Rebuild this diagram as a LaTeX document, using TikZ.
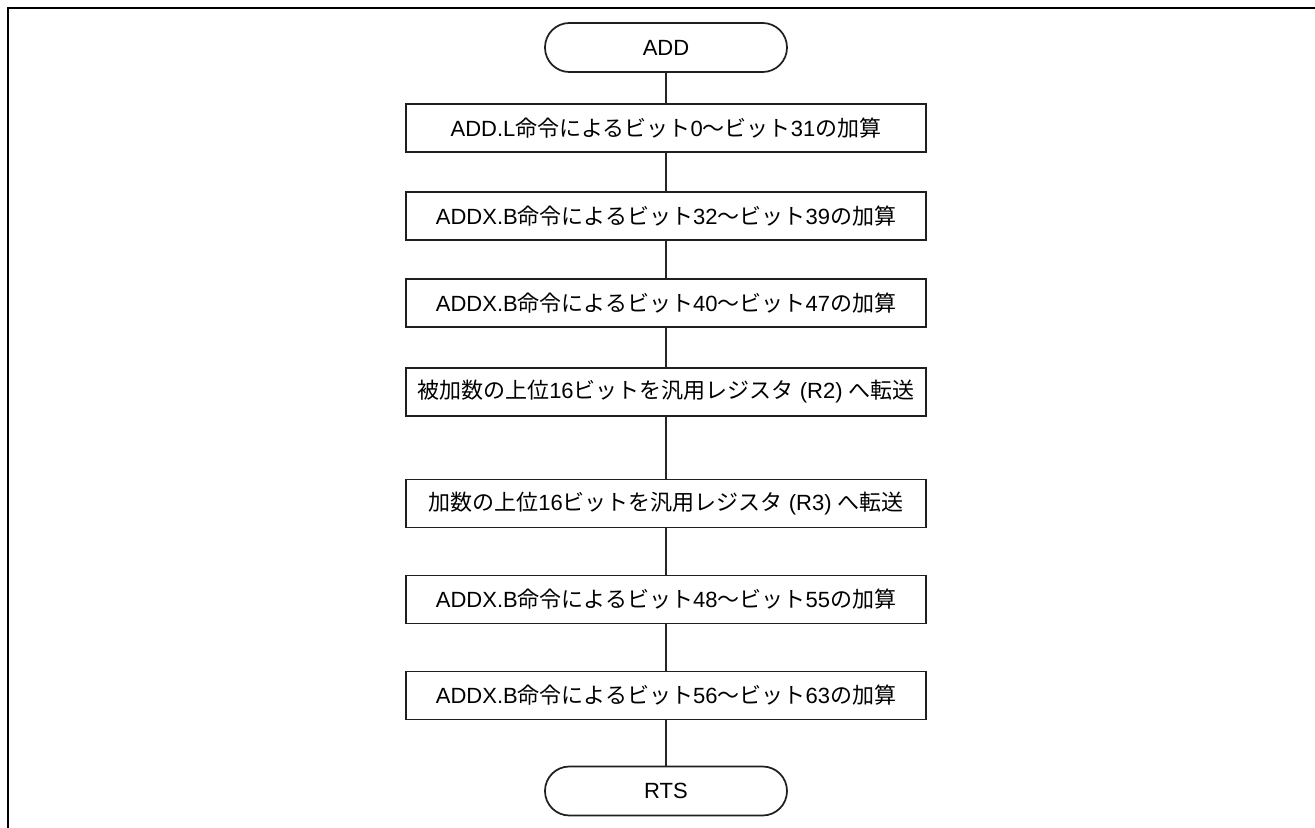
\documentclass[tikz,border=0pt]{standalone}
\usepackage{fontspec}
\setmainfont{Liberation Sans}
\newfontfamily\jp{Noto Sans CJK JP}
\newcommand\J[1]{{\jp #1}}
\begin{document}
\begin{tikzpicture}[x=0.75pt,y=-0.75pt,
  txt/.style={font=\fontsize{16.5}{19}\selectfont},
  proc/.style={txt, draw=black!88, line width=1.3pt, minimum width=390pt, minimum height=36pt, inner sep=0pt},
  term/.style={txt, draw=black!88, line width=1.3pt, rounded corners=18.3pt, minimum width=181.5pt, minimum height=36.75pt, inner sep=0pt},
  link/.style={draw=black!85, line width=0.8pt},
  frame/.style={line width=1.8pt}]
\useasboundingbox (0,0) rectangle (1315,828);
\coordinate (f1) at (8,828);
\coordinate (f2) at (8,8);
\coordinate (f3) at (1316,8);
\draw[frame] (f1) -- (f2) -- (f3);
\node[term] (add) at (666,47.5) {ADD};
\node[proc] (b1) at (666,128) {ADD.L\J{命令によるビット}0\J{〜ビット}31\J{の加算}};
\node[proc] (b2) at (666,216) {ADDX.B\J{命令によるビット}32\J{〜ビット}39\J{の加算}};
\node[proc] (b3) at (666,303) {ADDX.B\J{命令によるビット}40\J{〜ビット}47\J{の加算}};
\node[proc] (b4) at (666,392) {\J{被加数の上位}16\J{ビットを汎用レジスタ} (R2) \J{へ転送}};
\node[proc] (b5) at (666,503.5) {\J{加数の上位}16\J{ビットを汎用レジスタ} (R3) \J{へ転送}};
\node[proc] (b6) at (666,599.5) {ADDX.B\J{命令によるビット}48\J{〜ビット}55\J{の加算}};
\node[proc] (b7) at (666,695.5) {ADDX.B\J{命令によるビット}56\J{〜ビット}63\J{の加算}};
\node[term] (rts) at (666,791) {RTS};
\draw[link] (add) -- (b1);
\draw[link] (b1) -- (b2);
\draw[link] (b2) -- (b3);
\draw[link] (b3) -- (b4);
\draw[link] (b4) -- (b5);
\draw[link] (b5) -- (b6);
\draw[link] (b6) -- (b7);
\draw[link] (b7) -- (rts);
\end{tikzpicture}
\end{document}
